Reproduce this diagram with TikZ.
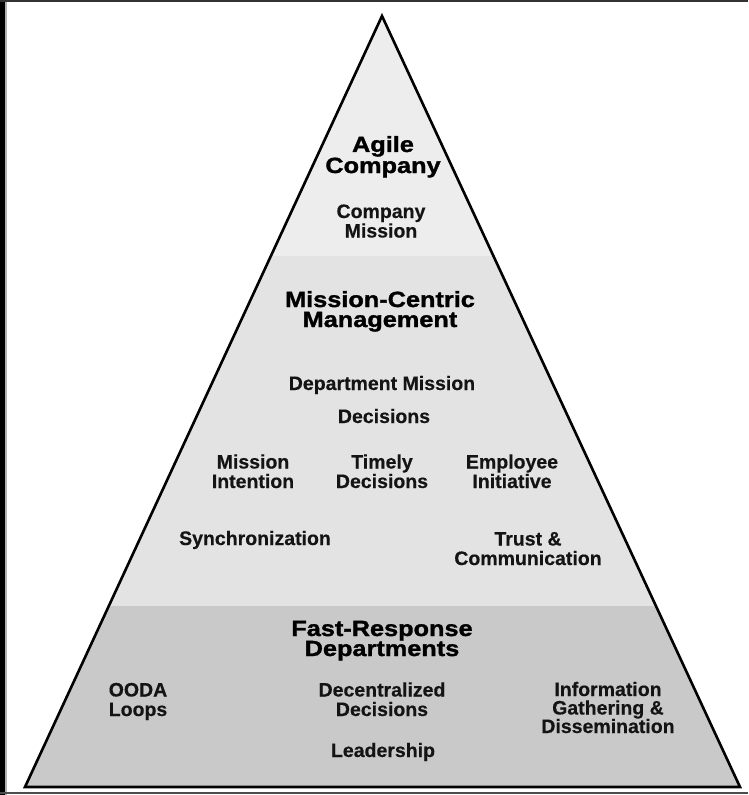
\documentclass[tikz,border=0pt]{standalone}
\usepackage{fontspec}
\setmainfont{Liberation Sans}[FakeBold=0.4]
\newfontfamily\headfont[FakeStretch=1.15,FakeBold=1.4]{Liberation Sans}
\begin{document}
\begin{tikzpicture}[x=1pt,y=-1pt,
  head/.style={font=\headfont\bfseries\fontsize{22}{20}\selectfont, align=center, anchor=base, inner sep=0pt},
  item/.style={font=\bfseries\fontsize{19.5}{19.5}\selectfont, align=center, anchor=base, inner sep=0pt, text=black!92},
  outline/.style={draw=black, line width=2.6pt, line join=miter}]
\useasboundingbox (0,0) rectangle (748,795);
\fill[white] (0,0) rectangle (748,795);
% frame
\fill[black] (0,0) rectangle (5,795);
\fill[black!30] (5,0) rectangle (6.5,795);
\fill[black!80] (0,0) rectangle (748,1.5);
\fill[black!70] (0,792) rectangle (748,794);
% pyramid
\coordinate (apex) at (382,16);
\coordinate (bl) at (25,787);
\coordinate (br) at (740,787);
\begin{scope}
  \clip (apex) -- (bl) -- (br) -- cycle;
  \fill[black!7] (0,0) rectangle (748,256);
  \fill[black!11] (0,256) rectangle (748,606);
  \fill[black!21] (0,606) rectangle (748,795);
\end{scope}
\draw[outline] (apex) -- (bl) -- (br) -- cycle;
% top band (anchor = baseline of last line)
\node[head] (agile) at (383,173) {Agile\\Company};
\node[item] (cmission) at (381,237.5) {Company\\Mission};
% middle band
\node[head] (mcm) at (380,327) {Mission-Centric\\Management};
\node[item] (dmission) at (382,390) {Department Mission};
\node[item] (decisions) at (384,423) {Decisions};
\node[item] (mintent) at (253,488) {Mission\\Intention};
\node[item] (timely) at (382,488) {Timely\\Decisions};
\node[item] (employee) at (512,488) {Employee\\Initiative};
\node[item] (sync) at (255,545) {Synchronization};
\node[item] (trust) at (528,565) {Trust \&\\Communication};
% bottom band
\node[head] (frd) at (382,656) {Fast-Response\\Departments};
\node[item] (ooda) at (138,716) {OODA\\Loops};
\node[item] (decent) at (382,716) {Decentralized\\Decisions};
\node[item] (lead) at (383,757) {Leadership};
\node[item, font=\bfseries\fontsize{19.5}{18.5}\selectfont] (info) at (608,733) {Information\\Gathering \&\\Dissemination};
\end{tikzpicture}
\end{document}
